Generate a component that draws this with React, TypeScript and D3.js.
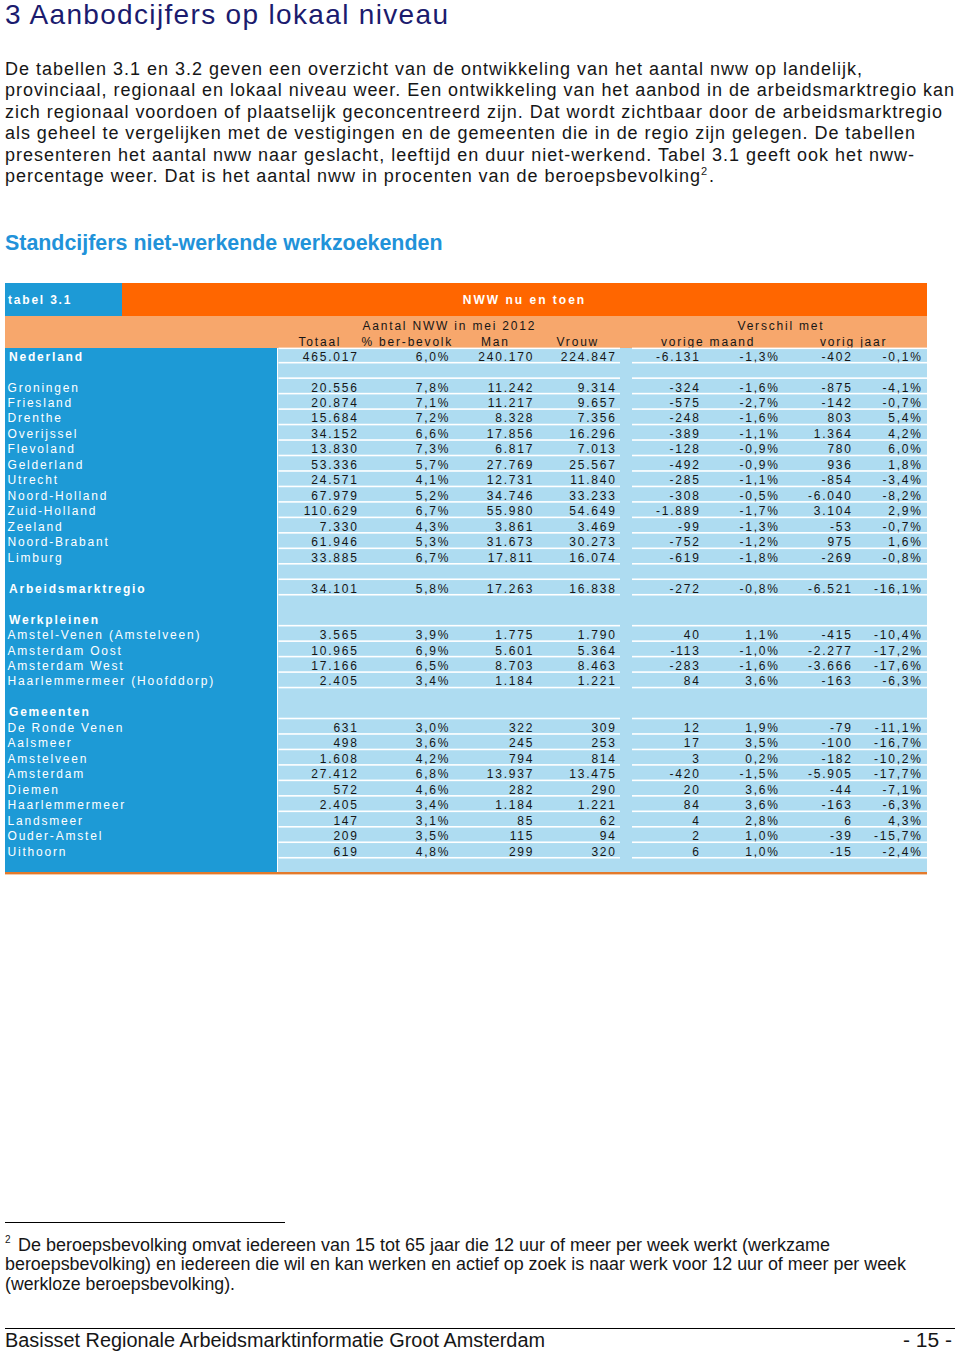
import React from "react";
import * as d3 from "d3";

// ---------- DATA ----------
const rowLabels = [
  "Nederland", "",
  "Groningen", "Friesland", "Drenthe", "Overijssel", "Flevoland", "Gelderland", "Utrecht",
  "Noord-Holland", "Zuid-Holland", "Zeeland", "Noord-Brabant", "Limburg", "",
  "Arbeidsmarktregio", "",
  "Werkpleinen", "Amstel-Venen (Amstelveen)", "Amsterdam Oost", "Amsterdam West", "Haarlemmermeer (Hoofddorp)", "",
  "Gemeenten", "De Ronde Venen", "Aalsmeer", "Amstelveen", "Amsterdam", "Diemen", "Haarlemmermeer",
  "Landsmeer", "Ouder-Amstel", "Uithoorn", "",
];
const sectionHeaders = ["Nederland", "Arbeidsmarktregio", "Werkpleinen", "Gemeenten"];

const totaal = [465017, null, 20556, 20874, 15684, 34152, 13830, 53336, 24571, 67979, 110629, 7330, 61946, 33885, null, 34101, null, null, 3565, 10965, 17166, 2405, null, null, 631, 498, 1608, 27412, 572, 2405, 147, 209, 619, null];
const pctBer = [6.0, null, 7.8, 7.1, 7.2, 6.6, 7.3, 5.7, 4.1, 5.2, 6.7, 4.3, 5.3, 6.7, null, 5.8, null, null, 3.9, 6.9, 6.5, 3.4, null, null, 3.0, 3.6, 4.2, 6.8, 4.6, 3.4, 3.1, 3.5, 4.8, null];
const man = [240170, null, 11242, 11217, 8328, 17856, 6817, 27769, 12731, 34746, 55980, 3861, 31673, 17811, null, 17263, null, null, 1775, 5601, 8703, 1184, null, null, 322, 245, 794, 13937, 282, 1184, 85, 115, 299, null];
const vrouw = [224847, null, 9314, 9657, 7356, 16296, 7013, 25567, 11840, 33233, 54649, 3469, 30273, 16074, null, 16838, null, null, 1790, 5364, 8463, 1221, null, null, 309, 253, 814, 13475, 290, 1221, 62, 94, 320, null];
const vorigeMaandAbs = [-6131, null, -324, -575, -248, -389, -128, -492, -285, -308, -1889, -99, -752, -619, null, -272, null, null, 40, -113, -283, 84, null, null, 12, 17, 3, -420, 20, 84, 4, 2, 6, null];
const vorigeMaandPct = [-1.3, null, -1.6, -2.7, -1.6, -1.1, -0.9, -0.9, -1.1, -0.5, -1.7, -1.3, -1.2, -1.8, null, -0.8, null, null, 1.1, -1.0, -1.6, 3.6, null, null, 1.9, 3.5, 0.2, -1.5, 3.6, 3.6, 2.8, 1.0, 1.0, null];
const vorigJaarAbs = [-402, null, -875, -142, 803, 1364, 780, 936, -854, -6040, 3104, -53, 975, -269, null, -6521, null, null, -415, -2277, -3666, -163, null, null, -79, -100, -182, -5905, -44, -163, 6, -39, -15, null];
const vorigJaarPct = [-0.1, null, -4.1, -0.7, 5.4, 4.2, 6.0, 1.8, -3.4, -8.2, 2.9, -0.7, 1.6, -0.8, null, -16.1, null, null, -10.4, -17.2, -17.6, -6.3, null, null, -11.1, -16.7, -10.2, -17.7, -7.1, -6.3, 4.3, -15.7, -2.4, null];

const headerLine1 = ["Aantal NWW in mei 2012", "Verschil met"];
const headerLine2 = ["Totaal", "% ber-bevolk", "Man", "Vrouw", "vorige maand", "vorig jaar"];

const titleText = "3 Aanbodcijfers op lokaal niveau";
const bodyLines = [
  "De tabellen 3.1 en 3.2 geven een overzicht van de ontwikkeling van het aantal nww op landelijk,",
  "provinciaal, regionaal en lokaal niveau weer. Een ontwikkeling van het aanbod in de arbeidsmarktregio kan",
  "zich regionaal voordoen of plaatselijk geconcentreerd zijn. Dat wordt zichtbaar door de arbeidsmarktregio",
  "als geheel te vergelijken met de vestigingen en de gemeenten die in de regio zijn gelegen. De tabellen",
  "presenteren het aantal nww naar geslacht, leeftijd en duur niet-werkend. Tabel 3.1 geeft ook het nww-",
  "percentage weer. Dat is het aantal nww in procenten van de beroepsbevolking",
];
const subtitleText = "Standcijfers niet-werkende werkzoekenden";
const footnoteLines = [
  "De beroepsbevolking omvat iedereen van 15 tot 65 jaar die 12 uur of meer per week werkt (werkzame",
  "beroepsbevolking) en iedereen die wil en kan werken en actief op zoek is naar werk voor 12 uur of meer per week",
  "(werkloze beroepsbevolking).",
];
const footerText = "Basisset Regionale Arbeidsmarktinformatie Groot Amsterdam";
const pageNumber = "- 15 -";

// ---------- STYLE / LAYOUT ----------
const C = {
  orange: "#FF6600",
  lightOrange: "#F7A76C",
  blue: "#1D9AD6",
  lightBlue: "#AEDCF1",
  bottomLine: "#E37A2C",
  title: "#1B1B6E",
  subtitle: "#2192D9",
  text: "#161616",
};
const FONT = "'Liberation Sans', Arial, Helvetica, sans-serif";
const NARROW = "'Liberation Sans Narrow', 'Arial Narrow', 'Liberation Sans', Arial, sans-serif";
const LS = 1.8; // table letter spacing

const nl = d3.formatLocale({ decimal: ",", thousands: ".", grouping: [3], currency: ["€", ""], minus: "-" });
const fmtInt = nl.format(",d");
const fmt1 = nl.format(",.1f");
const fmtPct = (v: number) => fmt1(v) + "%";

const columns = [
  { values: totaal, right: 357, fmt: fmtInt },
  { values: pctBer, right: 448.5, fmt: fmtPct },
  { values: man, right: 532.5, fmt: fmtInt },
  { values: vrouw, right: 615, fmt: fmtInt },
  { values: vorigeMaandAbs, right: 699, fmt: fmtInt },
  { values: vorigeMaandPct, right: 778, fmt: fmtPct },
  { values: vorigJaarAbs, right: 851, fmt: fmtInt },
  { values: vorigJaarPct, right: 921, fmt: fmtPct },
];
const header1X = [362.5, 737.5];
const header2X = [298.5, 361.5, 481, 556.5, 661, 820];
const bodyEnds = [862, 954, 942, 915, 914, 700];
const footEnds = [830, 906, 235];

const TL = 5, TR = 927, COLSPLIT = 278;
const SEG = [[278.5, 620], [632, 927]];

export default function App() {
  const rowY = d3.scaleBand<number>().domain(d3.range(rowLabels.length)).range([347.3, 873.3]);
  const bw = rowY.bandwidth();
  const n = rowLabels.length;
  const hasLine = (i: number) => i < n - 1 && !(totaal[i] == null && totaal[i + 1] == null);

  return (
    <svg width={960} height={1354} style={{ position: "absolute", left: 0, top: 0, display: "block", background: "#fff" }}
      fontFamily={FONT}>
      {/* Title */}
      <text x={5} y={24} fontSize={28} fill={C.title} textLength={443} lengthAdjust="spacing">{titleText}</text>
      {/* Body */}
      {bodyLines.map((t, i) => (
        <text key={i} x={5} y={74.5 + i * 21.5} fontSize={18} fill={C.text}
          textLength={bodyEnds[i] - 5} lengthAdjust="spacing">
          {t}
        </text>
      ))}
      <text x={bodyEnds[5] + 1} y={74.5 + 5 * 21.5 - 7} fontSize={11} fill={C.text}>2</text>
      <text x={bodyEnds[5] + 9} y={74.5 + 5 * 21.5} fontSize={18} fill={C.text}>.</text>

      {/* Subtitle */}
      <text x={5} y={250} fontSize={21.4} fontWeight="bold" fill={C.subtitle}>{subtitleText}</text>

      {/* Table header */}
      <rect x={122} y={283} width={TR - 122} height={33} fill={C.orange} />
      <rect x={TL} y={283} width={117} height={33} fill={C.blue} />
      <rect x={TL} y={316} width={TR - TL} height={32} fill={C.lightOrange} />
      <text x={8} y={304} fontSize={12} fontWeight="bold" fill="#fff" letterSpacing={LS}>tabel 3.1</text>
      <text x={(122 + TR) / 2} y={304} fontSize={12} fontWeight="bold" fill="#fff" letterSpacing={2}
        textAnchor="middle">NWW  nu en toen</text>
      {headerLine1.map((t, i) => (
        <text key={t} x={header1X[i]} y={330} fontSize={12} fill={C.text} letterSpacing={LS}>{t}</text>
      ))}
      {headerLine2.map((t, i) => (
        <text key={t} x={header2X[i]} y={345.5} fontSize={12} fill={C.text} letterSpacing={LS}>{t}</text>
      ))}

      {/* Body backgrounds */}
      <rect x={TL} y={348} width={COLSPLIT - TL - 1} height={873.3 - 348} fill={C.blue} />
      <rect x={COLSPLIT - 1} y={348} width={1} height={873.3 - 348} fill="#fff" />
      <rect x={COLSPLIT} y={348} width={TR - COLSPLIT} height={873.3 - 348} fill={C.lightBlue} />
      {SEG.map(([a, b], k) => (
        <rect key={"top" + k} x={a} y={347.6} width={b - a} height={1.5} fill="#fff" />
      ))}
      {d3.range(n).filter(hasLine).map((i) =>
        SEG.map(([a, b], k) => (
          <rect key={i + "-" + k} x={a} y={(rowY(i) as number) + bw - 0.9} width={b - a} height={1.6} fill="#fff" />
        ))
      )}
      <rect x={TL} y={872} width={TR - TL} height={2.4} fill={C.bottomLine} />

      {/* Row labels */}
      {rowLabels.map((lab, i) =>
        lab ? (
          <text key={"l" + i} x={sectionHeaders.includes(lab) ? 9 : 7.5} y={(rowY(i) as number) + 13.3}
            fontSize={12} fontWeight={sectionHeaders.includes(lab) ? "bold" : "normal"} fill="#fff"
            letterSpacing={LS}>{lab}</text>
        ) : null
      )}
      {/* Values */}
      {columns.map((col, c) =>
        col.values.map((v, i) =>
          v == null ? null : (
            <text key={c + "-" + i} x={col.right + LS} y={(rowY(i) as number) + 13.3} fontSize={12}
              fill={C.text} textAnchor="end" letterSpacing={LS}>{col.fmt(v as number)}</text>
          )
        )
      )}

      {/* Footnote */}
      <line x1={5} x2={285} y1={1222.5} y2={1222.5} stroke="#000" strokeWidth={1} />
      <text x={5} y={1243} fontSize={10} fill={C.text} fontFamily={NARROW}>2</text>
      {footnoteLines.map((t, i) => {
        const x0 = i === 0 ? 18 : 5;
        return (
          <text key={i} x={x0} y={1250.5 + i * 19.5} fontSize={17.5} fill={C.text} fontFamily={NARROW}
            textLength={footEnds[i] - x0} lengthAdjust="spacingAndGlyphs">{t}</text>
        );
      })}

      {/* Footer */}
      <line x1={5} x2={955} y1={1328.5} y2={1328.5} stroke="#000" strokeWidth={1} />
      <text x={5} y={1346.5} fontSize={19.5} fill={C.text} fontFamily={NARROW}
        textLength={540} lengthAdjust="spacingAndGlyphs">{footerText}</text>
      <text x={952} y={1346.5} fontSize={19.5} fill={C.text} fontFamily={NARROW} textAnchor="end"
        textLength={49} lengthAdjust="spacingAndGlyphs">{pageNumber}</text>
    </svg>
  );
}
